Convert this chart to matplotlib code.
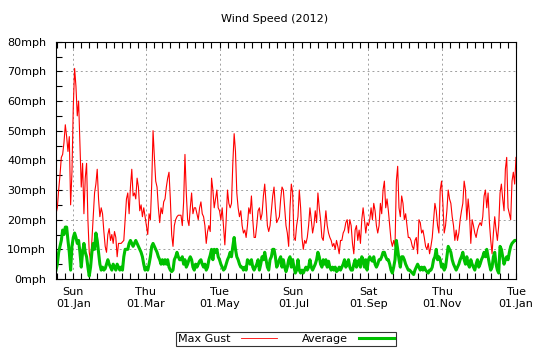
import numpy as np
import pandas as pd
import matplotlib
matplotlib.use("Agg")
import matplotlib.pyplot as plt
import matplotlib.dates as mdates
from matplotlib.ticker import MultipleLocator, FuncFormatter, FixedLocator

# wind readings (mph), Dec 2011 -> Jan 2013, evenly spaced samples
gust_winter = [22, 24, 30, 35, 41, 42, 46, 52, 48, 43,
               48, 25, 36, 58, 71, 65, 55, 60, 46, 31,
               39, 22, 34, 39, 20, 9, 6, 13, 21, 29,
               32, 37, 27, 21, 24, 22, 16, 11, 9, 15,
               17, 13, 15, 12, 16, 14, 7.5, 12, 12, 12,
               12.5, 13, 20, 27, 29, 22, 31, 37, 28, 29,
               27, 34, 31, 23, 25, 21, 24, 21, 18, 15,
               22, 20, 32, 50, 41, 33, 31, 24, 19, 24,
               22, 26, 27, 31, 34, 36, 27, 15, 11, 18,
               20, 21, 21.5, 21.5, 21.5, 18, 26, 42, 29, 20,
               18, 24, 29, 22, 24, 24, 22, 20, 24, 26,
               22, 21, 18, 12, 16, 18]
gust_summer = [16, 34, 30, 24, 27, 30, 24, 23, 20, 24,
               18, 11.5, 20, 30, 25.5, 24, 25.5, 39, 49, 43,
               29, 24, 21, 23, 18, 15.5, 16.5, 14, 18, 24,
               22, 28, 20, 14, 14, 18, 23, 24, 20, 22,
               28, 32, 25.5, 18, 16, 18, 23, 28, 31, 24,
               19, 20, 21, 27, 31, 30, 24, 18, 15.5, 11,
               24, 32, 29, 14, 13, 18, 21, 30, 24, 14,
               10, 13, 12, 14, 18, 24, 20, 15.5, 18, 23,
               19, 29, 24, 20, 14, 13, 18, 23, 18, 15.5,
               14, 13, 11, 12, 10, 13, 11, 8.5, 13, 13,
               15.5, 16.5, 19, 20, 15.5, 20, 18, 12, 8.5, 16.5,
               18, 13, 16.5, 12, 20, 24]
gust_autumn = [20, 15.5, 19, 18, 20, 24, 20, 25.5, 23, 18,
               15.5, 18, 25.5, 22, 30, 33, 24, 27, 23, 18,
               13, 11, 13, 11, 33, 38, 24, 21, 28, 25.5,
               20, 22, 18, 14, 14, 13, 11, 10, 13, 14,
               8.5, 20, 19, 15.5, 16.5, 14, 11, 10, 12, 8.5,
               11, 14, 20, 25.5, 23, 18, 15.5, 30, 33, 25.5,
               15.5, 18, 23, 30, 27, 25.5, 21, 18, 13, 16.5,
               13, 15.5, 20, 23, 25.5, 33, 30, 20, 27, 22,
               12, 20, 18, 15.5, 14, 16.5, 18, 19, 18, 21,
               28, 30, 24, 29, 19, 13, 8.5, 15.5, 21, 16.5,
               13, 18, 29, 32, 27, 23, 37, 41, 24, 22,
               20, 33, 36, 32, 41]

avg_winter = [3, 5, 9, 11, 13, 16.5, 15, 17.5, 17.5, 13,
              9, 3, 11, 14, 15.5, 14, 12, 13, 9, 4,
              9, 12, 9, 7.5, 4, 1, 4, 9, 12, 10,
              15.5, 13, 9, 5, 3, 4, 3, 3.5, 5, 6.5,
              5, 4, 3, 5, 4, 3, 5, 4, 3, 4,
              3, 7.5, 10, 10, 10, 12, 13, 12, 11, 12,
              13, 12, 11, 10, 9, 7.5, 5, 3, 4, 3,
              5, 7.5, 11, 12, 11, 10, 9, 7.5, 6.5, 5,
              6.5, 5, 6.5, 5, 6.5, 4, 3, 2.5, 3, 6.5,
              7.5, 9, 7.5, 6.5, 6.5, 7.5, 5, 6.5, 4, 5,
              6.5, 7.5, 6.5, 4, 3, 5, 4, 5, 6, 6.5,
              5, 4, 5, 3, 4, 6.5]
avg_summer = [8, 10, 6.5, 10, 9, 10, 7.5, 6.5, 5, 4,
              3, 3.5, 5, 6.5, 7.5, 9, 7.5, 11, 14, 10,
              7.5, 6.5, 5, 4, 4, 3, 4, 3, 6.5, 6,
              5, 6.5, 4, 3, 4, 5, 6.5, 3, 5, 7.5,
              6.5, 9, 6.5, 4, 3, 6.5, 7.5, 10, 10, 7.5,
              4, 5, 6.5, 7.5, 4, 6.5, 4, 2.5, 4, 6.5,
              7.5, 4, 6.5, 4, 2, 3, 6.5, 3, 2, 3,
              2, 3, 4, 3, 4, 6.5, 4, 3, 4, 5,
              6.5, 9, 7.5, 5, 4, 6.5, 5, 6.5, 4, 6,
              4, 3, 4, 3, 4, 2.5, 3, 4, 3, 4,
              5, 6.5, 4, 5, 6.5, 4, 3, 3, 5, 6.5,
              4, 5, 6.5, 4, 7.5, 6.5]
avg_autumn = [4, 6.5, 3, 6.5, 7.5, 6.5, 6, 7.5, 5, 4,
              5, 6.5, 6.5, 7.5, 9, 9, 7.5, 6.5, 6.5, 5,
              3, 2, 4, 6.5, 13, 10, 6.5, 4, 7.5, 7.5,
              6.5, 5, 4, 3, 3, 2.5, 2, 1.5, 3, 4,
              5, 4, 3, 4, 3, 4, 3, 2.5, 2, 3,
              3, 4, 6.5, 7.5, 10, 6.5, 7.5, 6.5, 4, 5,
              3, 4, 7.5, 11, 10, 9, 6.5, 5, 4, 3,
              4, 5, 6.5, 7.5, 9, 6.5, 5, 7.5, 5, 4,
              6.5, 5, 4, 3, 5, 6.5, 4, 5, 6.5, 7.5,
              9, 7.5, 10, 7.5, 5, 3, 4, 7.5, 9, 5,
              3, 2, 11, 10, 7.5, 5, 6.5, 7.5, 6.5, 9,
              11, 12, 12.5, 13, 13]

start = pd.Timestamp("2011-12-17 17:00")
end = pd.Timestamp("2013-01-01 00:00")

gust = gust_winter + gust_summer + gust_autumn
average = avg_winter + avg_summer + avg_autumn
t_gust = pd.date_range(start, end, periods=len(gust))
t_avg = pd.date_range(start, end, periods=len(average))

plt.rcParams['font.family'] = ['DejaVu Sans']
plt.rcParams['font.size'] = 8

fig = plt.figure(figsize=(5.4, 3.5), dpi=100)
ax = fig.add_axes([56 / 540, 1 - 279 / 350, 460 / 540, 237.3 / 350])

ax.plot(t_gust, gust, color='#ff0000', lw=0.8, label='Max Gust')
ax.plot(t_avg, average, color='#00c000', lw=2.2, label='Average')

ax.set_xlim(start, end)
ax.set_ylim(0, 80)

# major ticks every other month, 9 subdivisions between them
ax.xaxis.set_major_locator(mdates.MonthLocator(bymonth=[1, 3, 5, 7, 9, 11]))
ax.xaxis.set_major_formatter(mdates.DateFormatter('%a\n%d.%b'))
majors = mdates.date2num([pd.Timestamp(f"{y}-{m:02d}-01") for y, m in
                          [(2012, 1), (2012, 3), (2012, 5), (2012, 7),
                           (2012, 9), (2012, 11), (2013, 1)]])
minors = []
for a, b in zip(majors[:-1], majors[1:]):
    minors.extend(np.linspace(a, b, 10)[1:-1])
step = (majors[1] - majors[0]) / 9
minors.extend([majors[0] - step, majors[0] - 2 * step])
ax.xaxis.set_minor_locator(FixedLocator(minors))

ax.yaxis.set_major_locator(MultipleLocator(10))
ax.yaxis.set_minor_locator(MultipleLocator(5))
ax.yaxis.set_major_formatter(FuncFormatter(lambda v, p: f"{v:.0f}mph"))

ax.tick_params(axis='x', which='both', direction='in', top=True, bottom=True,
               pad=6)
ax.tick_params(axis='y', which='both', direction='in', left=True, right=False,
               pad=7)
ax.tick_params(which='major', length=4, width=0.8)
ax.tick_params(which='minor', length=4, width=0.8)
for lbl in ax.get_xticklabels():
    lbl.set_multialignment('center')

ax.grid(True, which='major', color='#a0a0a0', lw=0.7, linestyle=(0, (2, 3)))
for s in ax.spines.values():
    s.set_linewidth(0.8)

fig.text(275 / 540, 1 - 19 / 350, 'Wind Speed (2012)', ha='center',
         va='center', fontsize=8)

leg = fig.legend(loc='center', bbox_to_anchor=(286 / 540, 1 - 339 / 350),
                 ncol=2, markerfirst=False, frameon=True, fancybox=False,
                 handlelength=3.2, columnspacing=2.2, handletextpad=1.0,
                 borderpad=0.15, borderaxespad=0)
leg.get_frame().set_edgecolor('black')
leg.get_frame().set_linewidth(0.8)
leg.get_lines()[0].set_linewidth(0.6)

fig.savefig('out.png', dpi=100)
